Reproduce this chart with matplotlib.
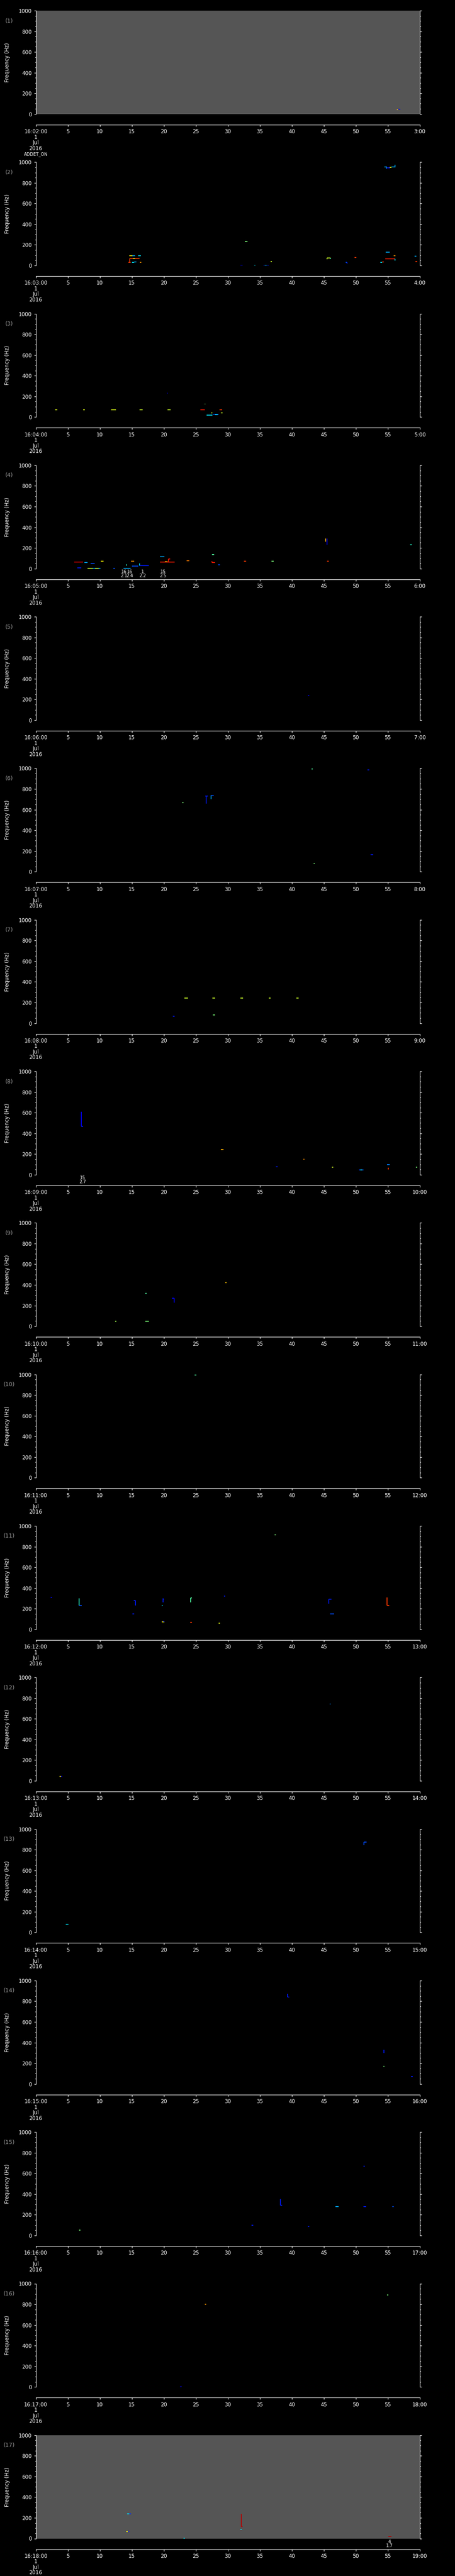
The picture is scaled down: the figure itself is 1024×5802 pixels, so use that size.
import numpy as np
import matplotlib
matplotlib.use('Agg')
import matplotlib.pyplot as plt
from matplotlib.collections import LineCollection
from matplotlib.colors import Normalize

# Figure geometry (pixels)
W, H = 1024, 5802
AX_LEFT, AX_WIDTH = 80.5, 864.2
AX_TOP0, AX_HEIGHT, PITCH = 24.0, 232.7, 341.3

# Panel start minutes (16:02 ... 16:18)
start_minutes = list(range(2, 19))
gray_panels = [1, 17]

# Segments per panel: (t0 [s], t1 [s], f0 [Hz], f1 [Hz], colour value 0..1)
seg_01 = [(56.4, 56.6, 42, 42, 0.72), (56.6, 57.0, 45, 45, 0.12)]
seg_02 = [(54.5, 54.9, 955, 955, 0.30), (54.8, 54.8, 960, 935, 0.25), (54.9, 55.4, 945, 945, 0.15),
          (55.3, 55.6, 948, 948, 0.65), (55.6, 56.1, 952, 952, 0.30), (56.1, 56.1, 950, 975, 0.30),
          (32.7, 33.1, 233, 233, 0.50),
          (14.6, 15.1, 93, 93, 0.65), (15.1, 15.5, 95, 95, 0.30), (16.0, 16.4, 96, 96, 0.35),
          (14.7, 16.2, 70, 70, 0.85), (15.2, 15.5, 70, 70, 0.65), (14.7, 14.7, 70, 32, 0.85),
          (14.5, 14.8, 32, 32, 0.85), (15.0, 15.4, 32, 32, 0.35), (15.4, 15.7, 36, 36, 0.30),
          (16.3, 16.5, 32, 32, 0.75),
          (32.0, 32.3, 2, 2, 0.12), (34.1, 34.3, 2, 2, 0.35), (35.6, 36.4, 2, 2, 0.15), (35.8, 36.1, 2, 2, 0.35),
          (36.7, 36.9, 38, 38, 0.60),
          (45.5, 46.1, 74, 74, 0.60), (45.5, 45.5, 74, 62, 0.60), (46.1, 46.1, 74, 64, 0.40),
          (49.8, 50.1, 76, 76, 0.85),
          (48.4, 48.6, 28, 28, 0.20), (48.6, 48.6, 28, 18, 0.15),
          (53.9, 54.1, 30, 30, 0.35), (54.1, 54.4, 36, 36, 0.85), (53.9, 53.9, 36, 24, 0.35),
          (54.7, 55.3, 129, 129, 0.30),
          (54.6, 56.1, 66, 66, 0.88), (55.9, 56.2, 93, 93, 0.75), (56.1, 56.1, 66, 48, 0.35),
          (59.2, 59.5, 92, 92, 0.30), (59.3, 59.6, 38, 38, 0.85)]
seg_03 = [(3.0, 3.4, 72, 72, 0.62), (7.4, 7.7, 72, 72, 0.62), (11.8, 12.5, 72, 72, 0.62),
          (16.2, 16.7, 72, 72, 0.60), (20.6, 21.1, 72, 72, 0.60), (20.6, 20.6, 235, 230, 0.12),
          (25.7, 26.4, 72, 72, 0.88), (26.4, 26.5, 125, 125, 0.50), (26.7, 27.6, 20, 20, 0.35),
          (27.4, 27.6, 40, 40, 0.60), (27.7, 28.6, 25, 25, 0.20), (28.0, 28.4, 22, 22, 0.35),
          (28.7, 29.1, 72, 72, 0.85), (28.9, 29.2, 40, 40, 0.60)]
seg_04 = [(6.0, 7.4, 63, 63, 0.92), (7.6, 8.1, 59, 59, 0.30), (8.6, 9.2, 50, 50, 0.20),
          (10.2, 10.6, 72, 72, 0.65), (6.5, 7.1, 7, 7, 0.15), (8.1, 8.9, 2, 2, 0.60),
          (8.9, 10.1, 2, 2, 0.30), (9.3, 9.8, 2, 2, 0.60), (12.1, 12.4, 2, 2, 0.20),
          (13.7, 14.8, 2, 2, 0.30), (14.2, 14.2, 40, 28, 0.40), (14.9, 15.4, 72, 72, 0.75),
          (15.0, 16.0, 22, 22, 0.20), (16.2, 16.2, 50, 30, 0.35), (16.2, 17.7, 28, 28, 0.15),
          (19.4, 20.1, 116, 116, 0.30), (19.4, 21.7, 63, 63, 0.88), (20.7, 20.7, 93, 63, 0.88),
          (20.7, 21.0, 93, 93, 0.88), (20.2, 20.6, 66, 66, 0.72), (23.6, 24.0, 75, 75, 0.78),
          (27.5, 27.9, 135, 135, 0.45), (27.5, 28.0, 60, 60, 0.88), (27.5, 27.5, 72, 60, 0.88),
          (28.5, 28.8, 37, 37, 0.20), (32.5, 32.9, 72, 72, 0.85), (36.8, 37.2, 72, 72, 0.50),
          (45.3, 45.3, 290, 260, 0.72), (45.5, 45.5, 290, 230, 0.12), (45.5, 45.8, 72, 72, 0.85),
          (58.5, 58.8, 232, 232, 0.40)]
seg_05 = [(42.5, 42.7, 235, 235, 0.12)]
seg_06 = [(26.5, 26.9, 730, 730, 0.15), (26.6, 26.6, 730, 660, 0.15), (27.3, 27.8, 735, 735, 0.20),
          (27.4, 27.4, 735, 700, 0.30), (43.1, 43.3, 995, 995, 0.45), (51.8, 52.1, 985, 985, 0.15),
          (52.3, 52.7, 163, 163, 0.15), (22.9, 23.1, 667, 667, 0.50), (43.4, 43.6, 78, 78, 0.50)]
seg_07 = [(23.2, 23.8, 242, 242, 0.60), (27.6, 28.0, 242, 242, 0.60), (32.0, 32.4, 242, 242, 0.60),
          (36.4, 36.7, 242, 242, 0.60), (40.7, 41.1, 242, 242, 0.60), (21.4, 21.7, 65, 65, 0.15),
          (27.7, 28.0, 78, 78, 0.50)]
seg_08 = [(7.1, 7.1, 610, 467, 0.12), (7.1, 7.4, 467, 467, 0.15), (28.9, 29.3, 242, 242, 0.72),
          (37.5, 37.8, 78, 78, 0.15), (41.8, 42.0, 150, 150, 0.75), (46.3, 46.5, 72, 72, 0.60),
          (50.5, 51.2, 46, 46, 0.20), (50.7, 51.0, 46, 46, 0.35), (54.9, 55.3, 98, 98, 0.25),
          (55.1, 55.1, 70, 50, 0.85), (59.4, 59.6, 72, 72, 0.50)]
seg_09 = [(12.4, 12.6, 46, 46, 0.55), (17.1, 17.3, 320, 320, 0.45), (17.1, 17.7, 46, 46, 0.50),
          (21.3, 21.6, 270, 270, 0.12), (21.6, 21.6, 270, 230, 0.12), (29.6, 29.8, 420, 420, 0.70)]
seg_10 = [(24.8, 25.1, 995, 995, 0.45)]
seg_11 = [(2.3, 2.5, 310, 310, 0.12), (6.8, 6.8, 300, 230, 0.40), (6.8, 7.2, 230, 230, 0.20),
          (15.3, 15.6, 276, 276, 0.15), (15.6, 15.6, 276, 230, 0.15), (15.1, 15.4, 150, 150, 0.15),
          (19.8, 20.0, 290, 290, 0.15), (19.9, 19.9, 300, 260, 0.15), (19.7, 19.8, 230, 230, 0.35),
          (19.7, 20.1, 72, 72, 0.65), (19.9, 20.1, 75, 75, 0.15),
          (24.2, 24.2, 305, 260, 0.45), (24.2, 24.4, 305, 305, 0.45), (24.1, 24.4, 66, 66, 0.85),
          (29.4, 29.6, 322, 322, 0.15), (28.6, 28.8, 60, 60, 0.62), (37.3, 37.5, 915, 915, 0.50),
          (45.8, 46.2, 290, 290, 0.15), (45.8, 45.8, 290, 250, 0.15), (46.0, 46.6, 150, 150, 0.20),
          (54.9, 54.9, 310, 230, 0.85), (54.9, 55.2, 230, 230, 0.85)]
seg_12 = [(3.7, 3.9, 42, 42, 0.65), (3.9, 4.1, 42, 42, 0.12), (45.9, 46.1, 743, 743, 0.25)]
seg_13 = [(51.3, 51.7, 875, 875, 0.20), (51.3, 51.3, 875, 845, 0.20), (4.7, 5.1, 80, 80, 0.35)]
seg_14 = [(39.3, 39.3, 870, 840, 0.15), (39.3, 39.6, 840, 840, 0.15), (54.4, 54.4, 330, 300, 0.15),
          (54.3, 54.5, 170, 170, 0.50), (58.6, 58.9, 70, 70, 0.15)]
seg_15 = [(6.8, 7.0, 50, 50, 0.50), (33.7, 34.0, 100, 100, 0.15), (38.2, 38.2, 350, 290, 0.15),
          (38.2, 38.5, 290, 290, 0.15), (42.5, 42.7, 85, 85, 0.15), (46.8, 47.3, 280, 280, 0.30),
          (51.2, 51.6, 280, 280, 0.15), (51.2, 51.4, 670, 670, 0.15), (55.7, 55.9, 280, 280, 0.20)]
seg_16 = [(26.4, 26.6, 800, 800, 0.75), (54.9, 55.1, 890, 890, 0.50), (22.5, 22.8, 2, 2, 0.12)]
seg_17 = [(14.3, 14.9, 238, 238, 0.35), (14.6, 14.9, 240, 240, 0.15), (14.1, 14.4, 66, 66, 0.65),
          (14.4, 14.6, 66, 66, 0.15), (32.1, 32.1, 238, 113, 0.95), (32.1, 32.3, 113, 113, 0.95),
          (32.0, 32.2, 90, 90, 0.35), (23.1, 23.3, 2, 2, 0.35), (55.1, 55.6, 19, 19, 0.95)]

segments = [seg_01, seg_02, seg_03, seg_04, seg_05, seg_06, seg_07, seg_08, seg_09,
            seg_10, seg_11, seg_12, seg_13, seg_14, seg_15, seg_16, seg_17]

# Annotations written under the plot: panel, time, text
ann_panel = [4, 4, 4, 4, 8, 17]
ann_time = [13.8, 14.7, 16.7, 19.9, 7.3, 55.3]
ann_text = ['16\n2.1', '16\n2.4', '1\n2.2', '15\n2.5', '15\n2.7', '4\n1.7']

xticks = list(range(0, 61, 5))

fig = plt.figure(figsize=(W / 100, H / 100), dpi=100, facecolor='black')
norm = Normalize(0, 1)

for i, m in enumerate(start_minutes):
    panel = i + 1
    top = AX_TOP0 + i * PITCH
    ax = fig.add_axes([AX_LEFT / W, 1 - (top + AX_HEIGHT) / H, AX_WIDTH / W, AX_HEIGHT / H])
    ax.set_facecolor('#555555' if panel in gray_panels else 'black')
    ax.set_xlim(0, 60)
    ax.set_ylim(0, 1000)

    segs = [[(s[0], s[2]), (s[1], s[3])] for s in segments[i]]
    vals = [s[4] for s in segments[i]]
    lc = LineCollection(segs, cmap='jet', norm=norm, linewidths=1.3, capstyle='butt')
    lc.set_array(np.array(vals))
    ax.add_collection(lc)

    # spines
    ax.spines['top'].set_visible(False)
    for side in ['left', 'right', 'bottom']:
        ax.spines[side].set_color('white')
        ax.spines[side].set_linewidth(0.9)
    ax.spines['bottom'].set_position(('outward', 17.3))

    # y axis
    ax.set_yticks(range(0, 1001, 200))
    ax.set_yticks(np.arange(0, 1001, 50), minor=True)
    ax.tick_params(axis='y', which='both', left=True, right=True, labelright=False,
                   direction='out', colors='white', labelsize=8.5, width=0.9)
    ax.tick_params(axis='y', which='major', length=3.0, pad=3.5)
    ax.tick_params(axis='y', which='minor', length=1.6)
    ax.set_ylabel('Frequency (Hz)', color='white', fontsize=8.5)
    ax.yaxis.set_label_coords(-57.5 / AX_WIDTH, 0.5)

    # x axis
    labels = [str(t) for t in xticks]
    labels[0] = '16:%02d:00\n1\nJul\n2016' % m
    labels[-1] = '%d:00' % (m + 1)
    ax.set_xticks(xticks)
    ax.set_xticklabels(labels, linespacing=0.95)
    ax.tick_params(axis='x', which='both', direction='out', length=2.8, width=0.9,
                   colors='white', labelsize=8.5, pad=4)

    ax.text(-59.5 / AX_WIDTH, 1 - 23 / AX_HEIGHT, '(%d)' % panel, transform=ax.transAxes,
            color='#9a9a9a', fontsize=9, ha='center', va='center')

    for p, t, s in zip(ann_panel, ann_time, ann_text):
        if p == panel:
            ax.annotate(s, xy=(t, 0), xytext=(0, -1.5), textcoords='offset points',
                        ha='center', va='top', color='white', fontsize=7,
                        linespacing=0.95, annotation_clip=False)

    if panel == 1:
        fig.text(80.5 / W, 1 - 348 / H, 'ADDET_ON', color='white', fontsize=7,
                 ha='center', va='center')

fig.savefig('out.png', dpi=100, facecolor='black')
